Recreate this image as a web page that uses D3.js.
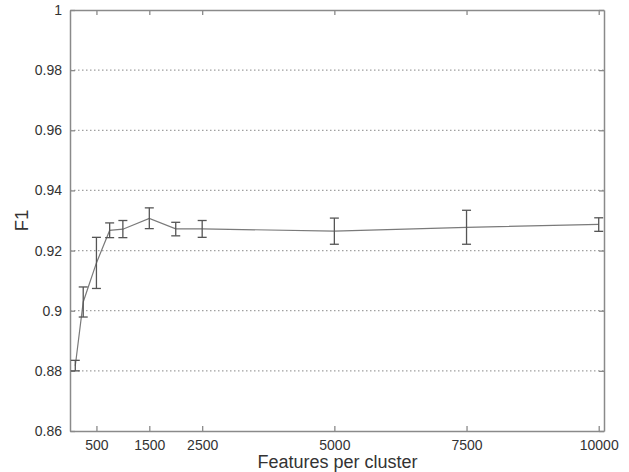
<!DOCTYPE html>
<html>
<head>
<meta charset="utf-8">
<script src="https://cdn.jsdelivr.net/npm/d3@7"></script>
<style>
  body { margin: 0; background: #fff; }
  svg { display: block; font-family: "Liberation Sans", Arial, sans-serif; }
</style>
</head>
<body>
<svg id="chart" width="629" height="472"></svg>
<script>
// data
const features = [100, 250, 500, 750, 1000, 1500, 2000, 2500, 5000, 7500, 10000];
const f1Mean = [0.8817, 0.9029, 0.9159, 0.9267, 0.9271, 0.9307, 0.9272, 0.9272, 0.9265, 0.9277, 0.9287];
const f1Low = [0.8800, 0.8979, 0.9074, 0.9243, 0.9243, 0.9273, 0.9249, 0.9244, 0.9221, 0.9221, 0.9264];
const f1High = [0.8835, 0.9079, 0.9244, 0.9292, 0.9300, 0.9342, 0.9294, 0.9300, 0.9308, 0.9334, 0.9309];
const xTicks = [500, 1500, 2500, 5000, 7500, 10000];
const yTicks = [0.86, 0.88, 0.9, 0.92, 0.94, 0.96, 0.98, 1];

const points = features.map((f, i) => ({ x: f, y: f1Mean[i], lo: f1Low[i], hi: f1High[i] }));

const svg = d3.select("#chart");
// plot box
const margin = { top: 10, left: 70, right: 25, bottom: 41 };
const width = 629, height = 472;

const x = d3.scaleLinear().domain([0, 10100]).range([margin.left, width - margin.right]);
const y = d3.scaleLinear().domain([0.86, 1]).range([height - margin.bottom, margin.top]);

const axisColor = "#8a8a8a";
const textColor = "#333";

// dotted grid on the inner y ticks
svg.append("g")
  .selectAll("line")
  .data(yTicks.filter(t => t > 0.86 && t < 1))
  .join("line")
  .attr("x1", x(0)).attr("x2", x(10100))
  .attr("y1", d => y(d)).attr("y2", d => y(d))
  .attr("stroke", "#a0a0a0")
  .attr("stroke-width", 1.2)
  .attr("stroke-dasharray", "1.5,2.5");

// axes, ticks inward like matlab
const fmtY = d => d3.format("")(+d.toFixed(2));
const axBottom = svg.append("g")
  .attr("transform", `translate(0,${y(0.86)})`)
  .call(d3.axisBottom(x).tickValues(xTicks).tickSizeInner(-5).tickSizeOuter(0).tickPadding(9).tickFormat(d3.format("")));
const axTop = svg.append("g")
  .attr("transform", `translate(0,${y(1)})`)
  .call(d3.axisTop(x).tickValues(xTicks).tickSizeInner(-5).tickSizeOuter(0).tickFormat(""));
const axLeft = svg.append("g")
  .attr("transform", `translate(${x(0)},0)`)
  .call(d3.axisLeft(y).tickValues(yTicks).tickSizeInner(-5).tickSizeOuter(0).tickPadding(8).tickFormat(fmtY));
const axRight = svg.append("g")
  .attr("transform", `translate(${x(10100)},0)`)
  .call(d3.axisRight(y).tickValues(yTicks).tickSizeInner(-5).tickSizeOuter(0).tickFormat(""));

[axBottom, axTop, axLeft, axRight].forEach(g => {
  g.select(".domain").attr("stroke", axisColor).attr("stroke-width", 1.5);
  g.selectAll(".tick line").attr("stroke", axisColor).attr("stroke-width", 1.3);
  g.selectAll(".tick text").attr("fill", textColor).style("font-size", "14px");
});

// mean line
svg.append("path")
  .datum(points)
  .attr("fill", "none")
  .attr("stroke", "#7a7a7a")
  .attr("stroke-width", 1.2)
  .attr("d", d3.line().x(d => x(d.x)).y(d => y(d.y)));

// error bars
const cap = 4.5;
const eb = svg.append("g").attr("stroke", "#555").attr("stroke-width", 1.3);
eb.selectAll(".stem").data(points).join("line")
  .attr("x1", d => x(d.x)).attr("x2", d => x(d.x))
  .attr("y1", d => y(d.lo)).attr("y2", d => y(d.hi));
eb.selectAll(".capHi").data(points).join("line")
  .attr("x1", d => x(d.x) - cap).attr("x2", d => x(d.x) + cap)
  .attr("y1", d => y(d.hi)).attr("y2", d => y(d.hi));
eb.selectAll(".capLo").data(points).join("line")
  .attr("x1", d => x(d.x) - cap).attr("x2", d => x(d.x) + cap)
  .attr("y1", d => y(d.lo)).attr("y2", d => y(d.lo));

// axis titles
svg.append("text")
  .attr("x", 337.5)
  .attr("y", 468)
  .attr("text-anchor", "middle")
  .attr("fill", textColor)
  .style("font-size", "18px")
  .text("Features per cluster");

svg.append("text")
  .attr("transform", `translate(28,${(y(0.86) + y(1)) / 2}) rotate(-90)`)
  .attr("text-anchor", "middle")
  .attr("fill", textColor)
  .style("font-size", "18.5px")
  .text("F1");
</script>
</body>
</html>
